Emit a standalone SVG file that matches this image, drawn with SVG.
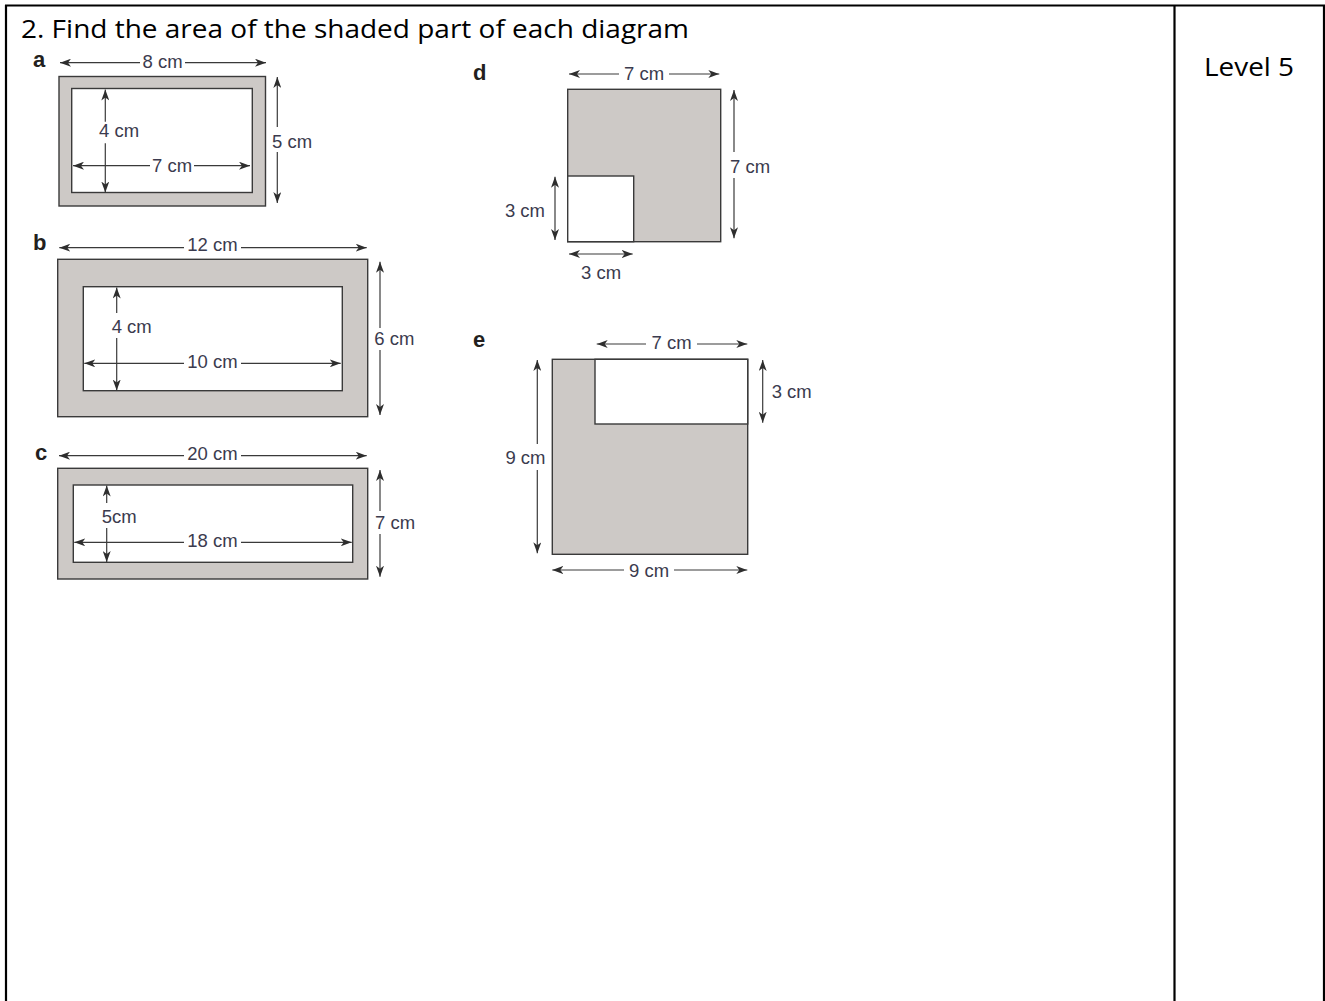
<svg xmlns="http://www.w3.org/2000/svg" width="1325" height="1001" viewBox="0 0 1325 1001">
<style>
.tbl{stroke:#000;stroke-width:2.2;fill:none}
.shape{fill:#cdc9c6;stroke:#3a3a3a;stroke-width:1.4}
.hole{fill:#fff;stroke:#3a3a3a;stroke-width:1.4}
.dim{stroke:#3a3a3a;stroke-width:1.2;fill:none;marker-end:url(#ah)}
.dim2{stroke:#3a3a3a;stroke-width:1.2;fill:none;marker-end:url(#ah);marker-start:url(#ah)}
.lbl{font-family:"Liberation Sans",Arial,sans-serif;font-size:18.5px;fill:#3b3b4e}
.mid{text-anchor:middle}
.end{text-anchor:end}
.key{font-family:"Liberation Sans",Arial,sans-serif;font-size:22px;font-weight:bold;fill:#231f20}
.head{font-family:"Open Sans","Liberation Sans",sans-serif;font-size:25px;fill:#000}
</style>
<defs>
<marker id="ah" markerUnits="userSpaceOnUse" markerWidth="11" markerHeight="8" refX="11" refY="4" orient="auto-start-reverse" viewBox="0 0 11 8">
<path d="M0,0 L11,4 L0,8 L3,4 z" fill="#2e2e2e"/>
</marker>
</defs>
<rect width="1325" height="1001" fill="#fff"/>
<g id="table">
<line class="tbl" x1="5" y1="5.5" x2="1325" y2="5.5"/>
<line class="tbl" x1="6" y1="5" x2="6" y2="1001"/>
<line class="tbl" x1="1174.5" y1="5" x2="1174.5" y2="1001"/>
<line class="tbl" x1="1324" y1="5" x2="1324" y2="1001"/>
<text class="head" x="21" y="38" textLength="668" lengthAdjust="spacingAndGlyphs">2. Find the area of the shaded part of each diagram</text>
<text class="head" x="1204" y="76" font-size="26" textLength="90" lengthAdjust="spacingAndGlyphs">Level 5</text>
</g>
<g id="shape-a">
<text class="key" x="33" y="67">a</text>
<rect class="shape" x="59" y="76.5" width="206.5" height="129.5"/>
<rect class="hole" x="71.7" y="88.5" width="180.6" height="104"/>
</g>
<g id="shape-b">
<text class="key" x="33" y="250">b</text>
<rect class="shape" x="57.7" y="259.3" width="310" height="157.4"/>
<rect class="hole" x="83.3" y="286.7" width="259" height="104"/>
</g>
<g id="shape-c">
<text class="key" x="35" y="460" font-weight="normal" font-size="21">c</text>
<rect class="shape" x="57.7" y="468.3" width="310" height="110.7"/>
<rect class="hole" x="73.3" y="485" width="279.4" height="77.3"/>
</g>
<g id="shape-d">
<text class="key" x="473" y="80">d</text>
<rect class="shape" x="567.7" y="89.3" width="153" height="152.4"/>
<rect class="hole" x="567.7" y="176" width="66" height="65.7"/>
</g>
<g id="shape-e">
<text class="key" x="473" y="347">e</text>
<rect class="shape" x="552.3" y="359.3" width="195.4" height="195"/>
<rect class="hole" x="595" y="359.3" width="152.7" height="64.7"/>
</g>
<g id="connectors">
<line class="dim" x1="140" y1="62.7" x2="60" y2="62.7"/>
<line class="dim" x1="185" y1="62.7" x2="266" y2="62.7"/>
<line class="dim" x1="277.3" y1="127" x2="277.3" y2="77"/>
<line class="dim" x1="277.3" y1="152" x2="277.3" y2="203"/>
<line class="dim" x1="105.3" y1="121.7" x2="105.3" y2="89.5"/>
<line class="dim" x1="105.3" y1="143.3" x2="105.3" y2="192.5"/>
<line class="dim" x1="150" y1="165.7" x2="73" y2="165.7"/>
<line class="dim" x1="194" y1="165.7" x2="250" y2="165.7"/>
<line class="dim" x1="184" y1="247.7" x2="59.3" y2="247.7"/>
<line class="dim" x1="241" y1="247.7" x2="366.7" y2="247.7"/>
<line class="dim" x1="380" y1="328" x2="380" y2="261.7"/>
<line class="dim" x1="380" y1="350" x2="380" y2="415"/>
<line class="dim" x1="116.7" y1="313" x2="116.7" y2="287.5"/>
<line class="dim" x1="116.7" y1="338" x2="116.7" y2="390.5"/>
<line class="dim" x1="184" y1="363.3" x2="84.3" y2="363.3"/>
<line class="dim" x1="241" y1="363.3" x2="340.7" y2="363.3"/>
<line class="dim" x1="184" y1="455.7" x2="59" y2="455.7"/>
<line class="dim" x1="241" y1="455.7" x2="366.7" y2="455.7"/>
<line class="dim" x1="380" y1="511" x2="380" y2="470"/>
<line class="dim" x1="380" y1="534" x2="380" y2="576.7"/>
<line class="dim" x1="106.7" y1="503" x2="106.7" y2="485.5"/>
<line class="dim" x1="106.7" y1="528" x2="106.7" y2="562"/>
<line class="dim" x1="184" y1="542.3" x2="74.3" y2="542.3"/>
<line class="dim" x1="241" y1="542.3" x2="351.7" y2="542.3"/>
<line class="dim" x1="619" y1="74" x2="569" y2="74"/>
<line class="dim" x1="669" y1="74" x2="719.3" y2="74"/>
<line class="dim" x1="734" y1="152" x2="734" y2="90"/>
<line class="dim" x1="734" y1="178" x2="734" y2="238.3"/>
<line class="dim2" x1="555" y1="176.7" x2="555" y2="240"/>
<line class="dim2" x1="569" y1="254" x2="632.7" y2="254"/>
<line class="dim" x1="646" y1="344" x2="596.7" y2="344"/>
<line class="dim" x1="697" y1="344" x2="747.3" y2="344"/>
<line class="dim2" x1="762.7" y1="360" x2="762.7" y2="422.7"/>
<line class="dim" x1="537.3" y1="444" x2="537.3" y2="360"/>
<line class="dim" x1="537.3" y1="470" x2="537.3" y2="553.3"/>
<line class="dim" x1="624" y1="570" x2="552.3" y2="570"/>
<line class="dim" x1="674" y1="570" x2="747.3" y2="570"/>
</g>
<g id="labels">
<text class="lbl mid" x="162.5" y="67.5">8 cm</text>
<text class="lbl" x="272" y="148">5 cm</text>
<text class="lbl" x="99" y="136.7">4 cm</text>
<text class="lbl mid" x="172" y="171.7">7 cm</text>
<text class="lbl mid" x="212.5" y="251">12 cm</text>
<text class="lbl" x="374.3" y="345">6 cm</text>
<text class="lbl" x="111.7" y="333.3">4 cm</text>
<text class="lbl mid" x="212.5" y="368.3">10 cm</text>
<text class="lbl mid" x="212.5" y="460">20 cm</text>
<text class="lbl" x="375" y="529.3">7 cm</text>
<text class="lbl" x="101.7" y="523.3">5cm</text>
<text class="lbl mid" x="212.5" y="546.7">18 cm</text>
<text class="lbl mid" x="644" y="80">7 cm</text>
<text class="lbl" x="730" y="172.7">7 cm</text>
<text class="lbl end" x="545" y="216.7">3 cm</text>
<text class="lbl mid" x="601" y="279.3">3 cm</text>
<text class="lbl mid" x="671.5" y="349.3">7 cm</text>
<text class="lbl" x="771.7" y="398.3">3 cm</text>
<text class="lbl end" x="545.5" y="464">9 cm</text>
<text class="lbl mid" x="649" y="576.7">9 cm</text>
</g>
</svg>
